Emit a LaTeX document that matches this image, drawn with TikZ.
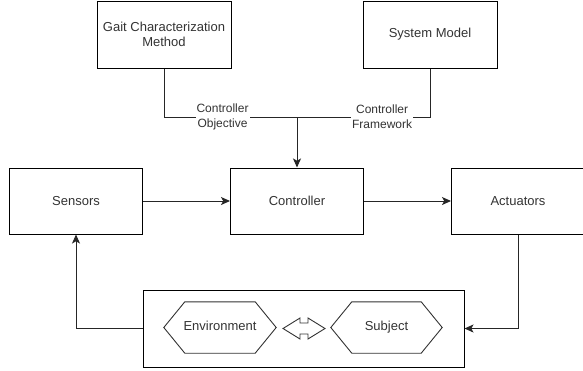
\documentclass[tikz,border=0pt]{standalone}
\usepackage{fontspec}
\setmainfont{Liberation Sans}
\usetikzlibrary{arrows.meta}

\begin{document}
\begin{tikzpicture}[x=1pt, y=-1pt,
  box/.style={draw=black, line width=1pt, minimum width=133pt, minimum height=66pt,
    inner sep=0pt, align=center, text=black!80, font=\fontsize{13}{15}\selectfont},
  txt/.style={inner sep=0pt, minimum width=#1, minimum height=51pt,
    text height=9.5pt, text depth=2.8pt,
    text=black!80, font=\fontsize{13}{15}\selectfont},
  conn/.style={line width=1pt, draw=black!85},
  tip/.style={-{Stealth[length=9pt, width=8pt, inset=2.2pt]}},
  lbl/.style={fill=white, inner sep=1pt, align=center, text=black!80,
    font=\fontsize{12}{15}\selectfont},
  hexa/.style={draw=black!80, line width=0.9pt, line join=miter}
]
\useasboundingbox (0,0) rectangle (583,370);

% upper inputs
\node[box, minimum width=134pt, minimum height=67pt] (gait) at (164,34.5) {Gait Characterization\\Method};
\node[box, minimum width=134pt, minimum height=67pt] (sysm) at (430,34.5) {System Model};

% main loop row
\node[box] (sens) at (76,201) {Sensors};
\node[box] (ctrl) at (297,201) {Controller};
\node[box] (act)  at (518,201) {Actuators};

% plant: environment and subject
\node[draw=black, line width=1pt, minimum width=321pt, minimum height=77pt, inner sep=0pt]
  (world) at (303.5,328.5) {};
\node[txt=112pt] (env)  at (220,327.5) {Environment};
\node[txt=111pt] (subj) at (386.5,327.5) {Subject};
\draw[hexa] (env.west) -- ([xshift=21pt]env.north west) -- ([xshift=-21pt]env.north east)
  -- (env.east) -- ([xshift=-21pt]env.south east) -- ([xshift=21pt]env.south west) -- cycle;
\draw[hexa] (subj.west) -- ([xshift=21pt]subj.north west) -- ([xshift=-21pt]subj.north east)
  -- (subj.east) -- ([xshift=-21pt]subj.south east) -- ([xshift=21pt]subj.south west) -- cycle;

% two-way interaction arrow
\coordinate (link) at (304,328.5);
\draw[hexa, shift={(link)}] (-21,0) -- (-4,-10.5) -- (-4,-5.5) -- (4,-5.5) -- (4,-10.5)
  -- (21,0) -- (4,10.5) -- (4,5.5) -- (-4,5.5) -- (-4,10.5) -- cycle;

% inputs merging into the controller
\coordinate (join) at (297,117);
\draw[conn] (gait.south) |- node[lbl, pos=0.72] {Controller\\Objective} (join);
\draw[conn] (sysm.south) |- node[lbl, pos=0.68] {Controller\\Framework} (join);
\draw[conn, tip] (join) -- (ctrl.north);

% loop connectors
\draw[conn, tip] (sens) -- (ctrl);
\draw[conn, tip] (ctrl) -- (act);
\draw[conn, tip] (act.south) |- (world.east);
\draw[conn, tip] (world.west) -| (sens.south);
\end{tikzpicture}
\end{document}
